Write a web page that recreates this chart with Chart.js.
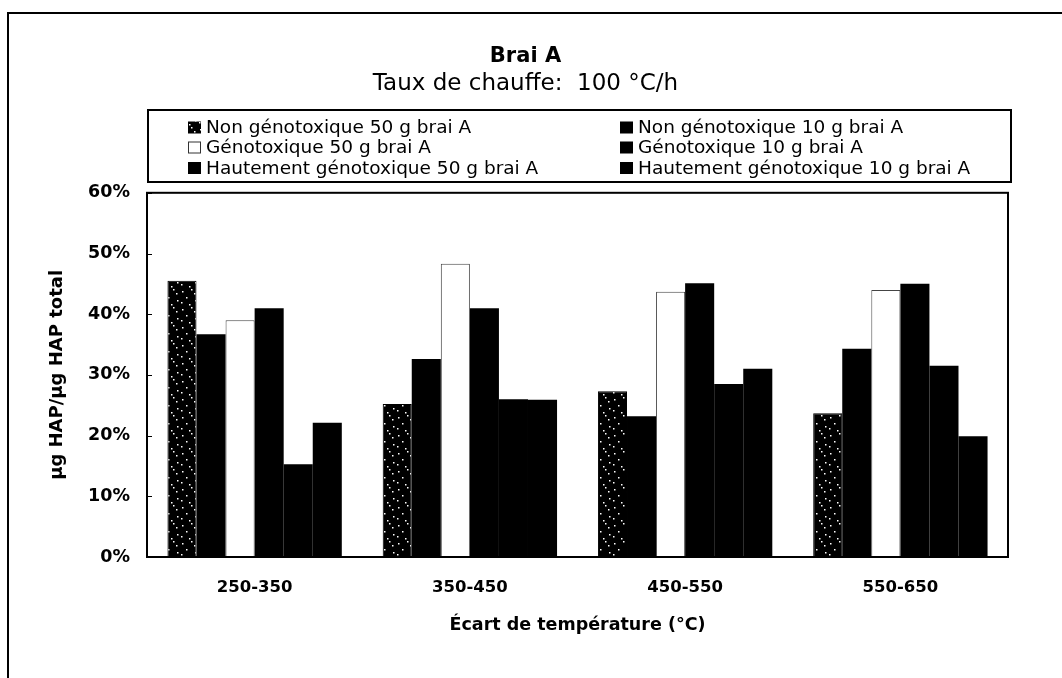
<!DOCTYPE html>
<html>
<head>
<meta charset="utf-8">
<script src="https://cdn.jsdelivr.net/npm/chart.js@4"></script>
<style>
  body{margin:0;background:#fff;}
  #wrap{position:relative;width:1062px;height:678px;}
</style>
</head>
<body>
<div id="wrap"><canvas id="my_canvas"></canvas></div>
<script>
const categories = ['250-350','350-450','450-550','550-650'];
const nonGeno50 = [45.5, 25.2, 27.3, 23.7];
const nonGeno10 = [36.7, 32.6, 23.2, 34.3];
const geno50 = [39.0, 48.3, 43.7, 44.0];
const geno10 = [41.0, 41.0, 45.1, 45.0];
const hautGeno50 = [15.3, 26.0, 28.5, 31.5];
const hautGeno10 = [22.1, 25.9, 31.0, 19.9];
const yTicks = [0,10,20,30,40,50,60];

const FONT = '"DejaVu Sans", sans-serif';

// speckled fill for the first series (sparse white specks on black)
function speckle(){
    const c = document.createElement('canvas');
    c.width = 18; c.height = 18;
    const g = c.getContext('2d');
    g.fillStyle = '#000';
    g.fillRect(0,0,18,18);
    g.fillStyle = '#fff';
    [[2,3],[11,1],[6,9],[15,12],[1,14],[9,16],[14,5]].forEach(p => g.fillRect(p[0],p[1],1.5,1.5));
    return g.createPattern(c,'repeat');
}
const dots = speckle();

// legend in a box, two columns
const boxLegend = {
    id:'boxLegend',
    afterDraw(chart){
        const ctx = chart.ctx;
        ctx.save();
        ctx.strokeStyle = '#000';
        ctx.lineWidth = 2;
        ctx.strokeRect(148,110,863,72);
        const colX = [188,620];
        const rowY = [127.5,147.5,168];
        ctx.font = '18.5px ' + FONT;
        ctx.textBaseline = 'middle';
        chart.data.datasets.forEach((ds,i) => {
            const x = colX[i%2], y = rowY[Math.floor(i/2)];
            ctx.fillStyle = ds.backgroundColor;
            ctx.fillRect(x, y-6, 13, 12);
            if(ds.backgroundColor === '#fff'){
                ctx.strokeStyle = '#333';
                ctx.lineWidth = 1;
                ctx.strokeRect(x+0.5, y-5.5, 12, 11);
            }
            ctx.fillStyle = '#000';
            ctx.fillText(ds.label, x+18, y+1);
        });
        ctx.restore();
    }
};

// frames: outer page frame and plot area box
const frames = {
    id:'frames',
    beforeDraw(chart){
        const ctx = chart.ctx;
        ctx.save();
        ctx.strokeStyle = '#000';
        ctx.lineWidth = 2;
        ctx.beginPath();
        ctx.moveTo(8,678);
        ctx.lineTo(8,13);
        ctx.lineTo(1062,13);
        ctx.stroke();
        ctx.restore();
    },
    afterDatasetsDraw(chart){
        const a = chart.chartArea;
        const ctx = chart.ctx;
        const y = chart.scales.y;
        ctx.save();
        ctx.strokeStyle = '#000';
        ctx.lineWidth = 2;
        ctx.strokeRect(a.left, a.top, a.right-a.left, a.bottom-a.top);
        // small inner tick marks on the value axis
        ctx.lineWidth = 1;
        ctx.beginPath();
        yTicks.forEach(v => {
            const py = Math.round(y.getPixelForValue(v)) + 0.5;
            ctx.moveTo(a.left, py);
            ctx.lineTo(a.left + 5, py);
        });
        ctx.stroke();
        ctx.restore();
    }
};

const canvas_element = document.getElementById('my_canvas').getContext('2d');

const the_chart = new Chart(canvas_element,{
    type:'bar',
    data:{
        labels:categories,
        datasets:[
            {label:'Non génotoxique 50 g brai A', data:nonGeno50, backgroundColor:dots, borderColor:'#000', borderWidth:1},
            {label:'Non génotoxique 10 g brai A', data:nonGeno10, backgroundColor:'#000'},
            {label:'Génotoxique 50 g brai A', data:geno50, backgroundColor:'#fff', borderColor:'#444', borderWidth:1},
            {label:'Génotoxique 10 g brai A', data:geno10, backgroundColor:'#000'},
            {label:'Hautement génotoxique 50 g brai A', data:hautGeno50, backgroundColor:'#000'},
            {label:'Hautement génotoxique 10 g brai A', data:hautGeno10, backgroundColor:'#000'}
        ]
    },
    options:{
        responsive:true,
        maintainAspectRatio:false,
        animation:false,
        datasets:{
            bar:{categoryPercentage:0.81, barPercentage:1}
        },
        layout:{padding:{left:43, right:54, top:0, bottom:38}},
        plugins:{
            legend:{display:false},
            tooltip:{enabled:false},
            title:{
                display:true,
                text:'Brai A',
                color:'#000',
                font:{family:FONT, size:21, weight:'bold'},
                padding:{top:44, bottom:0}
            },
            subtitle:{
                display:true,
                text:'Taux de chauffe:  100 °C/h',
                color:'#000',
                font:{family:FONT, size:23},
                padding:{top:1, bottom:95}
            }
        },
        scales:{
            y:{
                min:0,
                max:60,
                afterBuildTicks(scale){
                    scale.ticks = yTicks.map(v => ({value:v}));
                },
                afterFit(scale){ scale.width = 104; },
                grid:{display:false, drawTicks:false},
                border:{display:false},
                ticks:{
                    padding:17,
                    color:'#000',
                    font:{family:FONT, size:17.5, weight:'bold'},
                    callback:v => v + '%'
                },
                title:{
                    display:true,
                    text:'µg HAP/µg HAP total',
                    color:'#000',
                    font:{family:FONT, size:18, weight:'bold'}
                }
            },
            x:{
                afterFit(scale){ scale.height = 83; },
                grid:{display:false, drawTicks:false},
                border:{display:false},
                ticks:{
                    padding:21,
                    color:'#000',
                    font:{family:FONT, size:16.5, weight:'bold'}
                },
                title:{
                    display:true,
                    text:'Écart de température (°C)',
                    color:'#000',
                    font:{family:FONT, size:17.5, weight:'bold'}
                }
            }
        }
    },
    plugins:[boxLegend, frames]
});
</script>
</body>
</html>
